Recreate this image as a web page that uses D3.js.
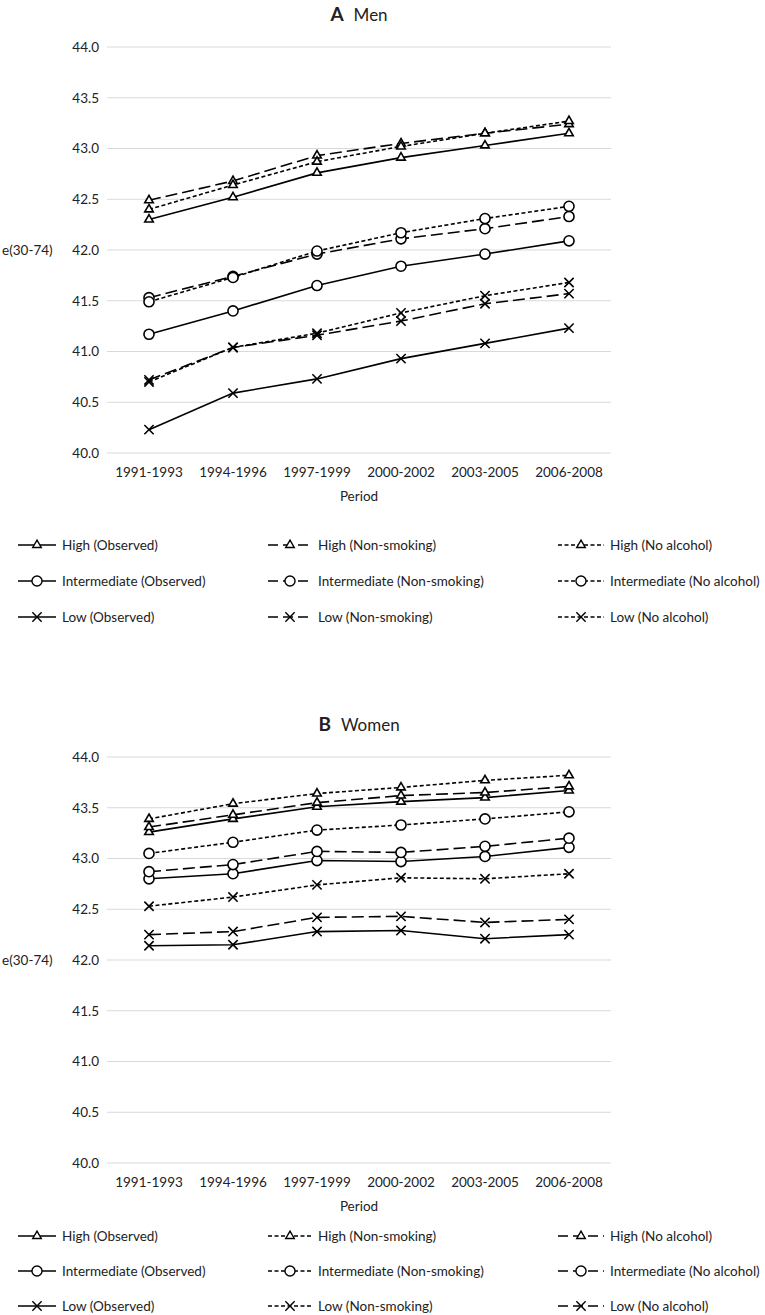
<!DOCTYPE html>
<html><head><meta charset="utf-8">
<script src="https://cdn.jsdelivr.net/npm/d3@7"></script>
<style>
body{margin:0;background:#fff}
text{font-family:Lato,"Open Sans",sans-serif;fill:#222}
</style></head>
<body><svg id="c" width="765" height="1315"></svg>
<script>
const periods = ["1991-1993","1994-1996","1997-1999","2000-2002","2003-2005","2006-2008"];
const yTickValues = [40.0,40.5,41.0,41.5,42.0,42.5,43.0,43.5,44.0];
const groups = ["High","Intermediate","Low"];

// Men (panel A)
const menHighObserved      = [42.30,42.52,42.76,42.91,43.03,43.15];
const menHighNonSmoking    = [42.49,42.68,42.93,43.05,43.15,43.24];
const menHighNoAlcohol     = [42.40,42.64,42.87,43.02,43.15,43.27];
const menInterObserved     = [41.17,41.40,41.65,41.84,41.96,42.09];
const menInterNonSmoking   = [41.53,41.74,41.96,42.11,42.21,42.33];
const menInterNoAlcohol    = [41.49,41.73,41.99,42.17,42.31,42.43];
const menLowObserved       = [40.23,40.59,40.73,40.93,41.08,41.23];
const menLowNonSmoking     = [40.72,41.04,41.16,41.30,41.47,41.57];
const menLowNoAlcohol      = [40.70,41.04,41.18,41.38,41.55,41.68];

// Women (panel B)
const womenHighObserved    = [43.26,43.39,43.51,43.56,43.60,43.67];
const womenHighNonSmoking  = [43.39,43.54,43.64,43.70,43.77,43.82];
const womenHighNoAlcohol   = [43.31,43.43,43.55,43.62,43.65,43.71];
const womenInterObserved   = [42.80,42.85,42.98,42.97,43.02,43.11];
const womenInterNonSmoking = [43.05,43.16,43.28,43.33,43.39,43.46];
const womenInterNoAlcohol  = [42.87,42.94,43.07,43.06,43.12,43.20];
const womenLowObserved     = [42.14,42.15,42.28,42.29,42.21,42.25];
const womenLowNonSmoking   = [42.53,42.62,42.74,42.81,42.80,42.85];
const womenLowNoAlcohol    = [42.25,42.28,42.42,42.43,42.37,42.40];

const svg = d3.select("#c");
const DASH = {solid:null, long:"12,5", short:"4,2.5"};
const SYM = {
  High: d3.symbol().type(d3.symbolTriangle2).size(52),
  Intermediate: d3.symbol().type(d3.symbolCircle).size(80),
  Low: d3.symbol().type(d3.symbolTimes).size(58)
};
const X0 = 107, X1 = 611;

function panel(cfg){
  const g = svg.append("g");
  const x = d3.scaleBand().domain(periods).range([X0,X1]);
  const y = d3.scaleLinear().domain([40,44]).range([cfg.y0+406, cfg.y0]);
  g.append("g").selectAll("line").data(yTickValues).join("line")
    .attr("x1",X0).attr("x2",X1).attr("y1",d=>y(d)).attr("y2",d=>y(d))
    .attr("stroke","#d9d9d9").attr("stroke-width",1.2);
  const ya = g.append("g").attr("transform",`translate(${X0},0)`)
    .call(d3.axisLeft(y).tickValues(yTickValues).tickFormat(d3.format(".1f")).tickSize(0).tickPadding(8));
  ya.select(".domain").remove();
  ya.selectAll("text").style("font-size","13.5px").style("font-family","Lato");
  const xa = g.append("g").attr("transform",`translate(0,${y(40)})`)
    .call(d3.axisBottom(x).tickSize(0).tickPadding(14));
  xa.select(".domain").remove();
  xa.selectAll("text").style("font-size","13.5px").style("font-family","Lato");
  const cx = (X0+X1)/2;
  g.append("text").attr("x",cx).attr("y",y(40)+48).attr("text-anchor","middle")
    .style("font-size","13.5px").text("Period");
  g.append("text").attr("x",2).attr("y",y(42)+5).style("font-size","13.5px").text("e(30-74)");
  const t = g.append("text").attr("x",cx).attr("y",cfg.y0-26).attr("text-anchor","middle");
  t.append("tspan").style("font-weight","bold").style("font-size","19px").text(cfg.letter);
  t.append("tspan").attr("dx",10).style("font-size","17px").text(cfg.title);

  const line = d3.line().x((d,i)=>x(periods[i])+x.bandwidth()/2).y(d=>y(d));
  cfg.series.forEach(s=>{
    g.append("path").datum(s.values).attr("d",line).attr("fill","none")
      .attr("stroke","#000").attr("stroke-width",1.6).attr("stroke-dasharray",DASH[s.dash]);
  });
  cfg.series.forEach(s=>{
    g.append("g").selectAll("path").data(s.values).join("path")
      .attr("transform",(d,i)=>`translate(${x(periods[i])+x.bandwidth()/2},${y(d)})`)
      .attr("d",SYM[s.group]()).attr("fill","#fff").attr("stroke","#000").attr("stroke-width",1.6);
  });
  const colX = [18,268,558];
  const colW = [38,44,46];
  cfg.legendCols.forEach((col,ci)=>{
    groups.forEach((gr,ri)=>{
      const ly = cfg.legendY + ri*cfg.legendStep;
      const lx = colX[ci], w = colW[ci];
      const lg = g.append("g");
      lg.append("line").attr("x1",lx).attr("x2",lx+w).attr("y1",ly).attr("y2",ly)
        .attr("stroke","#000").attr("stroke-width",1.6).attr("stroke-dasharray",col.dash==="long"?"10,5":DASH[col.dash]);
      lg.append("path").attr("transform",`translate(${lx+w/2},${ly})`).attr("d",SYM[gr]())
        .attr("fill","#fff").attr("stroke","#000").attr("stroke-width",1.4);
      lg.append("text").attr("x",lx+w+6).attr("y",ly+5).style("font-size","13.5px")
        .text(`${gr} (${col.name})`);
    });
  });
}

panel({y0:47, letter:"A", title:"Men", legendY:545, legendStep:36,
  legendCols:[{name:"Observed",dash:"solid"},{name:"Non-smoking",dash:"long"},{name:"No alcohol",dash:"short"}],
  series:[
    {group:"High",dash:"solid",values:menHighObserved},
    {group:"High",dash:"long",values:menHighNonSmoking},
    {group:"High",dash:"short",values:menHighNoAlcohol},
    {group:"Intermediate",dash:"solid",values:menInterObserved},
    {group:"Intermediate",dash:"long",values:menInterNonSmoking},
    {group:"Intermediate",dash:"short",values:menInterNoAlcohol},
    {group:"Low",dash:"solid",values:menLowObserved},
    {group:"Low",dash:"long",values:menLowNonSmoking},
    {group:"Low",dash:"short",values:menLowNoAlcohol}
  ]});
panel({y0:757, letter:"B", title:"Women", legendY:1236, legendStep:35,
  legendCols:[{name:"Observed",dash:"solid"},{name:"Non-smoking",dash:"short"},{name:"No alcohol",dash:"long"}],
  series:[
    {group:"High",dash:"solid",values:womenHighObserved},
    {group:"High",dash:"short",values:womenHighNonSmoking},
    {group:"High",dash:"long",values:womenHighNoAlcohol},
    {group:"Intermediate",dash:"solid",values:womenInterObserved},
    {group:"Intermediate",dash:"short",values:womenInterNonSmoking},
    {group:"Intermediate",dash:"long",values:womenInterNoAlcohol},
    {group:"Low",dash:"solid",values:womenLowObserved},
    {group:"Low",dash:"short",values:womenLowNonSmoking},
    {group:"Low",dash:"long",values:womenLowNoAlcohol}
  ]});
</script></body></html>
